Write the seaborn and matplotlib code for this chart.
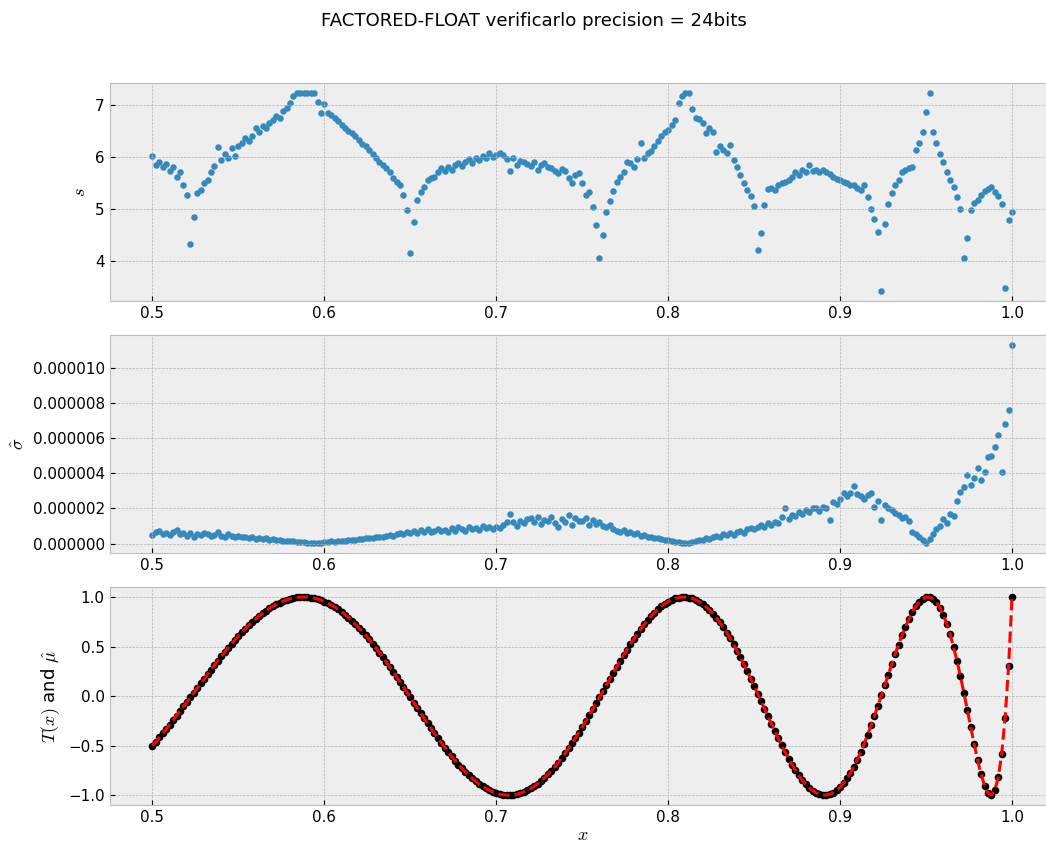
# =========================
# IMPORTS
# =========================
import numpy as np
import pandas as pd
import matplotlib
matplotlib.use("Agg")
import matplotlib.pyplot as plt
from matplotlib.ticker import FormatStrFormatter, MultipleLocator
import seaborn as sns


# =========================
# DATA (x = 0.500 ... 1.000 every 0.002)
# =========================
X_START = 0.5
X_STEP  = 0.002

# s : significant digits
s_digits = [
    6.01, 5.85, 5.90, 5.80, 5.86, 5.72, 5.80, 5.62, 5.70, 5.45, 5.27, 4.32, 4.85, 5.30, 5.36, 5.49, 5.55, 5.71, 5.82, 6.18, 5.93, 6.06, 5.98, 6.16, 6.02,
    6.20, 6.26, 6.36, 6.30, 6.40, 6.55, 6.48, 6.60, 6.55, 6.65, 6.70, 6.78, 6.75, 6.88, 6.93, 7.04, 7.17, 7.22, 7.22, 7.22, 7.22, 7.22, 7.22, 7.06, 6.85,
    7.02, 6.84, 6.80, 6.75, 6.68, 6.62, 6.55, 6.50, 6.45, 6.40, 6.33, 6.25, 6.20, 6.14, 6.05, 5.98, 5.90, 5.84, 5.78, 5.70, 5.60, 5.52, 5.45, 5.27, 4.98,
    4.15, 4.75, 5.17, 5.33, 5.43, 5.56, 5.59, 5.62, 5.70, 5.78, 5.72, 5.80, 5.75, 5.85, 5.88, 5.82, 5.90, 5.95, 5.88, 5.98, 5.94, 6.02, 5.97, 6.07, 6.00,
    6.04, 6.08, 6.04, 5.95, 5.72, 5.98, 5.85, 5.92, 5.91, 5.87, 5.82, 5.90, 5.75, 5.84, 5.88, 5.80, 5.78, 5.72, 5.69, 5.76, 5.72, 5.60, 5.49, 5.65, 5.69,
    5.49, 5.27, 5.33, 5.04, 4.70, 4.05, 4.50, 4.95, 5.15, 5.35, 5.52, 5.62, 5.70, 5.91, 5.88, 5.80, 5.95, 6.26, 5.98, 6.07, 6.12, 6.20, 6.30, 6.40, 6.48,
    6.52, 6.62, 6.71, 7.04, 7.17, 7.22, 7.22, 6.91, 6.75, 6.73, 6.65, 6.45, 6.55, 6.48, 6.10, 6.20, 6.14, 6.07, 6.23, 5.94, 5.80, 5.65, 5.50, 5.36, 5.25,
    5.05, 4.21, 4.53, 5.07, 5.39, 5.40, 5.36, 5.45, 5.49, 5.52, 5.56, 5.62, 5.71, 5.65, 5.75, 5.70, 5.84, 5.72, 5.75, 5.70, 5.75, 5.71, 5.68, 5.62, 5.58,
    5.56, 5.52, 5.49, 5.46, 5.46, 5.40, 5.36, 5.46, 5.23, 5.00, 4.80, 4.55, 3.42, 4.72, 5.10, 5.30, 5.45, 5.56, 5.71, 5.75, 5.78, 5.80, 6.13, 6.26, 6.48,
    6.86, 7.22, 6.48, 6.26, 6.05, 5.90, 5.70, 5.55, 5.43, 5.23, 5.00, 4.05, 4.45, 4.98, 5.12, 5.18, 5.27, 5.35, 5.39, 5.43, 5.33, 5.25, 5.10, 3.49, 4.78,
    4.94,
]

# sigma hat, in units of 1e-6
sigma_e6 = [
    0.47, 0.68, 0.72, 0.55, 0.60, 0.50, 0.68, 0.76, 0.52, 0.58, 0.45, 0.62, 0.40, 0.55, 0.48, 0.60, 0.57, 0.42, 0.50, 0.63, 0.45, 0.38, 0.52, 0.44, 0.36,
    0.42, 0.35, 0.40, 0.30, 0.38, 0.28, 0.33, 0.26, 0.30, 0.22, 0.25, 0.19, 0.21, 0.16, 0.17, 0.13, 0.14, 0.10, 0.09, 0.07, 0.05, 0.04, 0.03, 0.05, 0.04,
    0.08, 0.10, 0.12, 0.11, 0.15, 0.17, 0.16, 0.20, 0.22, 0.21, 0.25, 0.27, 0.30, 0.33, 0.31, 0.36, 0.40, 0.38, 0.45, 0.50, 0.44, 0.55, 0.60, 0.52, 0.66,
    0.62, 0.70, 0.58, 0.75, 0.68, 0.80, 0.64, 0.72, 0.85, 0.70, 0.78, 0.66, 0.88, 0.74, 0.92, 0.80, 0.70, 0.95, 0.83, 0.90, 0.76, 1.00, 0.86, 0.94, 0.82,
    0.95, 0.88, 1.08, 1.25, 1.66, 1.20, 1.02, 1.30, 1.15, 1.38, 1.45, 1.22, 1.50, 1.10, 1.35, 1.28, 1.52, 1.18, 0.95, 1.40, 1.25, 1.60, 1.05, 1.48, 1.30,
    1.30, 1.45, 1.05, 1.35, 1.12, 1.25, 1.02, 0.95, 1.08, 0.80, 0.72, 0.66, 0.78, 0.60, 0.66, 0.52, 0.58, 0.45, 0.48, 0.38, 0.40, 0.30, 0.32, 0.25, 0.22,
    0.18, 0.14, 0.10, 0.06, 0.03, 0.02, 0.05, 0.09, 0.14, 0.19, 0.22, 0.30, 0.26, 0.38, 0.45, 0.40, 0.52, 0.46, 0.58, 0.50, 0.64, 0.72, 0.60, 0.80, 0.88,
    0.85, 0.95, 1.05, 0.92, 1.15, 1.05, 1.25, 1.18, 1.52, 2.00, 1.40, 1.62, 1.55, 1.80, 1.70, 1.92, 1.78, 2.05, 2.00, 1.88, 2.10, 2.05, 1.34, 2.38, 2.25,
    2.55, 2.86, 2.70, 2.90, 3.30, 2.80, 2.70, 2.55, 2.75, 2.86, 2.10, 2.40, 1.34, 2.20, 2.00, 1.90, 1.75, 1.62, 1.45, 1.50, 1.30, 0.66, 0.55, 0.40, 0.22,
    0.05, 0.25, 0.55, 0.80, 1.00, 1.40, 1.15, 1.70, 1.55, 2.40, 2.95, 3.20, 3.90, 3.35, 3.75, 4.30, 3.60, 4.10, 4.90, 5.00, 5.50, 6.20, 4.10, 6.80, 7.60,
    11.30,
]

# T(x), the reference curve; mu hat sits on top of it
t_of_x = [
    -0.5000, -0.4595, -0.4179, -0.3753, -0.3319, -0.2878, -0.2429, -0.1974, -0.1515, -0.1052, -0.0586, -0.0117, 0.0352, 0.0821, 0.1289, 0.1755, 0.2218, 0.2676, 0.3129, 0.3576, 0.4015, 0.4446, 0.4868, 0.5279, 0.5678,
    0.6065, 0.6439, 0.6799, 0.7144, 0.7472, 0.7784, 0.8078, 0.8354, 0.8611, 0.8847, 0.9063, 0.9258, 0.9432, 0.9583, 0.9711, 0.9817, 0.9898, 0.9956, 0.9990, 1.0000, 0.9985, 0.9946, 0.9882, 0.9793, 0.9680,
    0.9542, 0.9381, 0.9196, 0.8987, 0.8755, 0.8500, 0.8223, 0.7924, 0.7605, 0.7265, 0.6906, 0.6528, 0.6132, 0.5720, 0.5291, 0.4848, 0.4391, 0.3921, 0.3439, 0.2948, 0.2447, 0.1939, 0.1424, 0.0904, 0.0380,
    -0.0145, -0.0672, -0.1197, -0.1721, -0.2241, -0.2756, -0.3264, -0.3764, -0.4255, -0.4734, -0.5201, -0.5654, -0.6092, -0.6513, -0.6915, -0.7298, -0.7661, -0.8001, -0.8318, -0.8611, -0.8878, -0.9119, -0.9333, -0.9518, -0.9674,
    -0.9801, -0.9897, -0.9962, -0.9995, -0.9997, -0.9966, -0.9904, -0.9809, -0.9681, -0.9522, -0.9330, -0.9107, -0.8853, -0.8568, -0.8253, -0.7909, -0.7537, -0.7138, -0.6713, -0.6262, -0.5789, -0.5293, -0.4777, -0.4242, -0.3690,
    -0.3122, -0.2541, -0.1949, -0.1347, -0.0739, -0.0125, 0.0491, 0.1108, 0.1723, 0.2333, 0.2937, 0.3531, 0.4113, 0.4681, 0.5233, 0.5766, 0.6277, 0.6764, 0.7225, 0.7658, 0.8060, 0.8430, 0.8765, 0.9063, 0.9323,
    0.9543, 0.9721, 0.9856, 0.9948, 0.9994, 0.9994, 0.9948, 0.9855, 0.9714, 0.9527, 0.9292, 0.9010, 0.8683, 0.8311, 0.7894, 0.7435, 0.6935, 0.6397, 0.5821, 0.5212, 0.4571, 0.3901, 0.3206, 0.2489, 0.1754,
    0.1005, 0.0245, -0.0521, -0.1289, -0.2054, -0.2812, -0.3557, -0.4285, -0.4991, -0.5669, -0.6316, -0.6925, -0.7492, -0.8015, -0.8484, -0.8898, -0.9252, -0.9541, -0.9763, -0.9914, -0.9990, -0.9990, -0.9912, -0.9754, -0.9514,
    -0.9194, -0.8793, -0.8312, -0.7753, -0.7119, -0.6414, -0.5640, -0.4805, -0.3913, -0.2972, -0.1990, -0.0975, 0.0063, 0.1113, 0.2165, 0.3205, 0.4222, 0.5202, 0.6130, 0.6993, 0.7775, 0.8462, 0.9040, 0.9494, 0.9811,
    0.9977, 0.9981, 0.9814, 0.9466, 0.8933, 0.8212, 0.7304, 0.6213, 0.4950, 0.3531, 0.1976, 0.0316, -0.1413, -0.3163, -0.4877, -0.6486, -0.7907, -0.9044, -0.9782, -0.9992, -0.9521, -0.8196, -0.5820, -0.2169, 0.3009,
    1.0000,
]

TITLE = "FACTORED-FLOAT verificarlo precision = 24bits"

x = X_START + X_STEP * np.arange(len(s_digits))
df = pd.DataFrame({
    "x": x,
    "s": s_digits,
    "sigma": np.array(sigma_e6) * 1e-6,
    "mu": t_of_x,
})


# =========================
# STYLE
# =========================
plt.style.use("bmh")
plt.rcParams["font.size"] = 10.9
plt.rcParams["mathtext.fontset"] = "cm"

BLUE = "#348ABD"

fig, axes = plt.subplots(3, 1, figsize=(10.46, 8.46), dpi=100)
fig.subplots_adjust(left=0.1047, right=1.0086, top=0.9015, bottom=0.0485, hspace=0.156)


# =========================
# TOP : s
# =========================
ax = axes[0]
sns.scatterplot(data=df, x="x", y="s", ax=ax, color=BLUE, s=22,
                linewidth=0, legend=False)
ax.set_xlabel("")
ax.set_ylabel("$s$")

# =========================
# MIDDLE : sigma hat
# =========================
ax = axes[1]
sns.scatterplot(data=df, x="x", y="sigma", ax=ax, color=BLUE, s=22,
                linewidth=0, legend=False)
ax.yaxis.set_major_locator(MultipleLocator(2e-6))
ax.yaxis.set_major_formatter(FormatStrFormatter("%.6f"))
ax.set_xlabel("")
ax.set_ylabel(r"$\hat{\sigma}$")

# =========================
# BOTTOM : T(x) and mu hat
# =========================
ax = axes[2]
sns.scatterplot(data=df, x="x", y="mu", ax=ax, color="black", s=30,
                linewidth=0, legend=False, zorder=2)
sns.lineplot(data=df, x="x", y="mu", ax=ax, color="red", linestyle="--",
             linewidth=2.2, zorder=3)
ax.set_xlabel("$x$", labelpad=1)
ax.set_ylabel(r"$T(x)$ and $\hat{\mu}$")

for ax in axes:
    ax.set_xlim(0.475, 1.025)
    ax.xaxis.set_major_locator(MultipleLocator(0.1))

fig.suptitle(TITLE, x=0.51, y=0.986)

plt.savefig("out.png", dpi=100)
